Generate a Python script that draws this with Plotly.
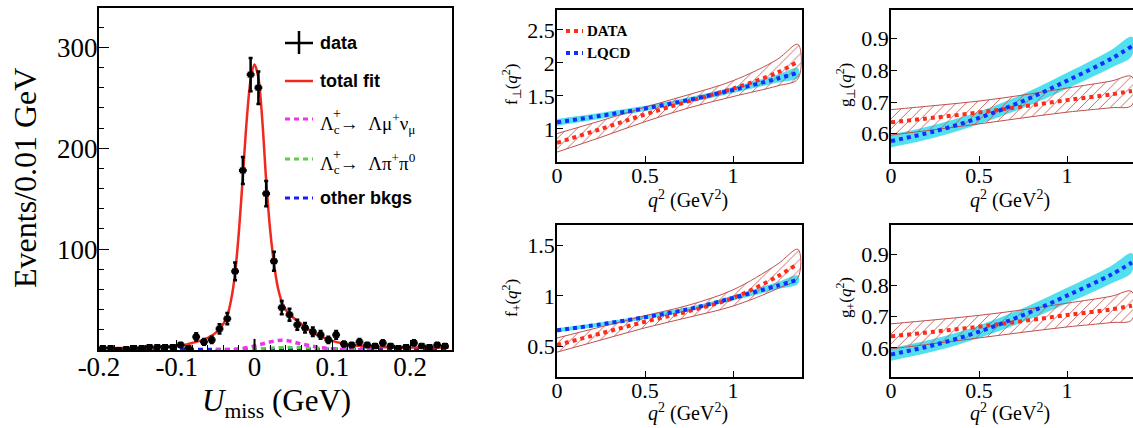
import plotly.graph_objects as go

W, H = 1133, 428
def px(x):
    return x / W
def py(y):
    return 1 - y / H

# ---------------- Left panel: U_miss distribution ----------------
bin_centers = [-0.195, -0.185, -0.175, -0.165, -0.155, -0.145, -0.135, -0.125, -0.115, -0.105,
               -0.095, -0.085, -0.075, -0.065, -0.055, -0.045, -0.035, -0.025, -0.015, -0.005,
               0.005, 0.015, 0.025, 0.035, 0.045, 0.055, 0.065, 0.075, 0.085, 0.095,
               0.105, 0.115, 0.125, 0.135, 0.145, 0.155, 0.165, 0.175, 0.185, 0.195,
               0.205, 0.215, 0.225, 0.235, 0.245]
counts = [2, 2, 0, 1, 2, 2, 3, 3, 3, 3,
          5, 2, 13, 8, 10, 21, 31, 78, 178, 273,
          260, 155, 88, 42, 35, 25, 22, 18, 15, 10,
          15, 6, 5, 8, 5, 4, 7, 4, 2, 3,
          7, 4, 3, 5, 4]
count_err = [c ** 0.5 for c in counts]

fit_x = [-0.2, -0.15, -0.12, -0.1, -0.09, -0.08, -0.07, -0.06, -0.05, -0.04, -0.035, -0.03,
         -0.025, -0.02, -0.015, -0.01, -0.005, 0.0, 0.005, 0.01, 0.015, 0.02, 0.025, 0.03,
         0.035, 0.04, 0.05, 0.06, 0.07, 0.08, 0.09, 0.1, 0.11, 0.12, 0.14, 0.16, 0.2, 0.25]
fit_y = [2, 2, 3, 4, 5, 7, 9, 12, 17, 26, 34, 50,
         76, 118, 172, 228, 268, 283, 270, 228, 168, 120, 86, 62,
         48, 40, 32, 26, 20, 15, 12, 9, 7, 5, 4, 3, 2.5, 2.5]

mu_x = [-0.05, -0.02, 0.0, 0.01, 0.02, 0.03, 0.04, 0.05, 0.06, 0.07, 0.08, 0.09, 0.1, 0.12, 0.15]
mu_y = [0, 1, 4, 6, 8, 9.5, 9.5, 8, 6, 4.5, 3, 2, 1.2, 0.5, 0]

pipi_x = [-0.05, 0.0, 0.02, 0.04, 0.06, 0.08, 0.1, 0.12, 0.15]
pipi_y = [0.3, 1.0, 2.0, 2.6, 2.4, 1.8, 1.2, 0.6, 0.2]

bkg_x = [-0.2, -0.1, 0.0, 0.1, 0.2, 0.25]
bkg_y = [0.8, 0.9, 1.0, 1.0, 0.9, 0.9]

# small vertical mark at U_miss = 0 near the baseline
mark_x = [0.0, 0.0]
mark_y = [0.0, 11.0]

# ---------------- Right panels: form factors ----------------
q2 = [0.0, 0.25, 0.5, 0.75, 1.0, 1.25, 1.369]

fperp_data = [0.79, 1.00, 1.22, 1.42, 1.61, 1.85, 2.02]
fperp_data_err = [0.14, 0.125, 0.11, 0.10, 0.12, 0.20, 0.26]
fperp_lqcd = [1.10, 1.20, 1.31, 1.44, 1.59, 1.76, 1.85]
fperp_lqcd_err = [0.05, 0.045, 0.04, 0.04, 0.045, 0.06, 0.07]

gperp_data = [0.636, 0.651, 0.667, 0.686, 0.706, 0.724, 0.735]
gperp_data_err = [0.040, 0.038, 0.036, 0.036, 0.038, 0.042, 0.045]
gperp_lqcd = [0.577, 0.608, 0.650, 0.703, 0.767, 0.836, 0.876]
gperp_lqcd_err = [0.020, 0.020, 0.020, 0.022, 0.025, 0.028, 0.030]

fplus_data = [0.515, 0.63, 0.745, 0.85, 0.98, 1.19, 1.32]
fplus_data_err = [0.07, 0.065, 0.06, 0.06, 0.08, 0.12, 0.14]
fplus_lqcd = [0.66, 0.72, 0.79, 0.87, 0.98, 1.10, 1.16]
fplus_lqcd_err = [0.02, 0.02, 0.02, 0.02, 0.025, 0.035, 0.04]

gplus_data = [0.637, 0.652, 0.668, 0.686, 0.705, 0.723, 0.735]
gplus_data_err = [0.040, 0.038, 0.036, 0.036, 0.038, 0.042, 0.045]
gplus_lqcd = [0.579, 0.610, 0.652, 0.705, 0.767, 0.834, 0.873]
gplus_lqcd_err = [0.020, 0.020, 0.020, 0.022, 0.025, 0.028, 0.030]

RED = '#ff2a1a'
HATCH = '#c0504d'
CYAN = '#52e0f0'
BLUE = '#1030ff'
SERIF = 'Liberation Serif'
SANS = 'Liberation Sans'

fig = go.Figure()

# left panel traces
fig.add_trace(go.Scatter(x=bkg_x, y=bkg_y, mode='lines', line=dict(color='#1a1aff', width=3, dash='5px,4px'),
                         xaxis='x', yaxis='y', showlegend=False, hoverinfo='skip'))
fig.add_trace(go.Scatter(x=pipi_x, y=pipi_y, mode='lines', line=dict(color='#5ccc4a', width=3, dash='5px,4px', shape='spline'),
                         xaxis='x', yaxis='y', showlegend=False, hoverinfo='skip'))
fig.add_trace(go.Scatter(x=mu_x, y=mu_y, mode='lines', line=dict(color='#ee33ee', width=3.5, dash='5px,4px', shape='spline'),
                         xaxis='x', yaxis='y', showlegend=False, hoverinfo='skip'))
fig.add_trace(go.Scatter(x=mark_x, y=mark_y, mode='lines', line=dict(color='black', width=2),
                         xaxis='x', yaxis='y', showlegend=False, hoverinfo='skip'))
fig.add_trace(go.Scatter(x=fit_x, y=fit_y, mode='lines', line=dict(color='#f0281e', width=2.5, shape='spline', smoothing=0.8),
                         xaxis='x', yaxis='y', showlegend=False, hoverinfo='skip'))
fig.add_trace(go.Scatter(x=bin_centers, y=counts, mode='markers',
                         marker=dict(color='black', size=6, symbol='square'),
                         error_y=dict(type='data', array=count_err, color='black', thickness=2.5, width=2),
                         error_x=dict(type='constant', value=0.005, color='black', thickness=3, width=0),
                         xaxis='x', yaxis='y', showlegend=False, hoverinfo='skip'))

# right panels
panels = [
    ('x2', 'y2', fperp_data, fperp_data_err, fperp_lqcd, fperp_lqcd_err),
    ('x3', 'y3', gperp_data, gperp_data_err, gperp_lqcd, gperp_lqcd_err),
    ('x4', 'y4', fplus_data, fplus_data_err, fplus_lqcd, fplus_lqcd_err),
    ('x5', 'y5', gplus_data, gplus_data_err, gplus_lqcd, gplus_lqcd_err),
]
for xa, ya, dv, de, lv, le in panels:
    up = [v + e for v, e in zip(lv, le)]
    lo = [v - e for v, e in zip(lv, le)]
    fig.add_trace(go.Scatter(x=q2 + q2[::-1], y=up + lo[::-1], mode='lines', fill='toself',
                             fillcolor=CYAN, line=dict(width=0, color=CYAN, shape='spline'),
                             xaxis=xa, yaxis=ya, showlegend=False, hoverinfo='skip'))
    up = [v + e for v, e in zip(dv, de)]
    lo = [v - e for v, e in zip(dv, de)]
    fig.add_trace(go.Scatter(x=q2 + q2[::-1], y=up + lo[::-1], mode='lines', fill='toself',
                             fillcolor='rgba(0,0,0,0)',
                             fillpattern=dict(shape='/', fgcolor=HATCH, bgcolor='rgba(0,0,0,0)', size=7, solidity=0.12),
                             line=dict(width=1, color=HATCH, shape='spline'),
                             xaxis=xa, yaxis=ya, showlegend=False, hoverinfo='skip'))
    fig.add_trace(go.Scatter(x=q2, y=dv, mode='lines', line=dict(color=RED, width=4, dash='dot', shape='spline'),
                             xaxis=xa, yaxis=ya, showlegend=False, hoverinfo='skip'))
    fig.add_trace(go.Scatter(x=q2, y=lv, mode='lines', line=dict(color=BLUE, width=4, dash='dot', shape='spline'),
                             xaxis=xa, yaxis=ya, showlegend=False, hoverinfo='skip'))

def xdom(a, b):
    return [px(a), px(b)]
def ydom(top, bot):
    return [py(bot), py(top)]

ax_common = dict(showgrid=False, zeroline=False, showline=True, linecolor='black', ticks='inside',
                 tickcolor='black', automargin=False)

left_font = dict(family=SERIF, size=27, color='black')
right_font = dict(family=SERIF, size=22, color='black')

layout = dict(
    template='none',
    width=W, height=H, margin=dict(l=0, r=0, t=0, b=0, pad=0, autoexpand=False),
    paper_bgcolor='white', plot_bgcolor='white', showlegend=False,
    xaxis=dict(domain=xdom(99, 452), range=[-0.2, 0.254], tickvals=[-0.2, -0.1, 0, 0.1, 0.2],
               ticktext=['-0.2', '-0.1', '0', '0.1', '0.2'], tickfont=left_font, ticklen=10,
               ticklabelstandoff=-8,
               linewidth=2, mirror=True, anchor='y', minor=dict(ticks='inside', ticklen=5, dtick=0.02, tickcolor='black'),
               **ax_common),
    yaxis=dict(domain=ydom(8, 350), range=[0, 339], tickvals=[100, 200, 300], tickfont=left_font,
               ticklen=10, linewidth=2, mirror=True, anchor='x', ticklabelstandoff=-6,
               minor=dict(ticks='inside', ticklen=5, dtick=20, tickcolor='black'), **ax_common),
)

right_specs = [
    ('xaxis2', 'yaxis2', 'y2', 'x2', (557, 802), (10, 162), [0, 1.392], [0.5, 2.8], [1, 1.5, 2, 2.5], ['1', '1.5', '2', '2.5'], True),
    ('xaxis3', 'yaxis3', 'y3', 'x3', (891, 1133), (10, 162), [0, 1.375], [0.511, 0.99], [0.6, 0.7, 0.8, 0.9], ['0.6', '0.7', '0.8', '0.9'], False),
    ('xaxis4', 'yaxis4', 'y4', 'x4', (557, 802), (225, 377), [0, 1.392], [0.2, 1.7], [0.5, 1, 1.5], ['0.5', '1', '1.5'], True),
    ('xaxis5', 'yaxis5', 'y5', 'x5', (891, 1133), (225, 377), [0, 1.375], [0.507, 0.993], [0.6, 0.7, 0.8, 0.9], ['0.6', '0.7', '0.8', '0.9'], False),
]
for xk, yk, yan, xan, (l, r), (t, b), xr, yr, yt, ytt, full in right_specs:
    layout[xk] = dict(domain=xdom(l, r), range=xr, tickvals=[0, 0.5, 1], ticktext=['0', '0.5', '1'],
                      tickfont=right_font, ticklen=6, linewidth=1.5, mirror=True, anchor=yan,
                      ticklabelstandoff=-7, **ax_common)
    layout[yk] = dict(domain=ydom(t, b), range=yr, tickvals=yt, ticktext=ytt, tickfont=right_font,
                      ticklen=6, linewidth=1.5, mirror=full, anchor=xan,
                      ticklabelstandoff=-4, **ax_common)

fig.update_layout(**layout)

def note(x, y, text, font, xanchor='center', angle=0):
    return dict(x=px(x), y=py(y), xref='paper', yref='paper', text=text, showarrow=False,
                xanchor=xanchor, yanchor='middle', textangle=angle, font=font)

ann = []
# left titles
ann.append(note(25, 178, 'Events/0.01 GeV', dict(family=SERIF, size=32, color='black'), angle=-90))
ann.append(note(276, 403, '<i>U</i><sub>miss</sub> (GeV)', dict(family=SERIF, size=31, color='black')))
# left legend
leg_font_sans = dict(family=SANS, size=18, color='black')
leg_font_serif = dict(family=SERIF, size=19, color='black')
ann.append(note(318, 43, '<b>data</b>', leg_font_sans, xanchor='left'))
ann.append(note(318, 81, '<b>total fit</b>', leg_font_sans, xanchor='left'))
ann.append(note(318, 123, 'Λ<sub>c</sub>→  Λμ<sup>+</sup>ν<sub>μ</sub>', leg_font_serif, xanchor='left'))
ann.append(note(318, 163, 'Λ<sub>c</sub>→  Λπ<sup>+</sup>π<sup>0</sup>', leg_font_serif, xanchor='left'))
ann.append(note(331, 114, '+', dict(family=SERIF, size=14, color='black'), xanchor='left'))
ann.append(note(331, 154, '+', dict(family=SERIF, size=14, color='black'), xanchor='left'))
ann.append(note(318, 198, '<b>other bkgs</b>', leg_font_sans, xanchor='left'))
shapes = []
shapes.append(dict(type='line', xref='paper', yref='paper', x0=px(285), x1=px(313), y0=py(43), y1=py(43),
                   line=dict(color='black', width=2.5)))
shapes.append(dict(type='line', xref='paper', yref='paper', x0=px(299), x1=px(299), y0=py(31), y1=py(54),
                   line=dict(color='black', width=2.5)))
shapes.append(dict(type='line', xref='paper', yref='paper', x0=px(285), x1=px(313), y0=py(81), y1=py(81),
                   line=dict(color='#f0281e', width=2.5)))
for yy, col in [(119, '#ee33ee'), (159, '#5ccc4a'), (198, '#1a1aff')]:
    shapes.append(dict(type='line', xref='paper', yref='paper', x0=px(285), x1=px(313), y0=py(yy), y1=py(yy),
                       line=dict(color=col, width=3, dash='5px,4px')))

# right titles
q2title = '<i>q</i><sup>2</sup> (GeV<sup>2</sup>)'
for cx, cy in [(688, 199), (1010, 199), (688, 412), (1010, 412)]:
    ann.append(note(cx, cy, q2title, dict(family=SERIF, size=20, color='black')))
for cx, cy, tt in [(511, 85, 'f<sub>⊥</sub>(<i>q</i><sup>2</sup>)'), (845, 85, 'g<sub>⊥</sub>(<i>q</i><sup>2</sup>)'),
                   (511, 298, 'f<sub>+</sub>(<i>q</i><sup>2</sup>)'), (845, 298, 'g<sub>+</sub>(<i>q</i><sup>2</sup>)')]:
    ann.append(note(cx, cy, tt, dict(family=SERIF, size=17, color='black'), angle=-90))
# right legend
for yy, col, tt in [(31, RED, '<b>DATA</b>'), (53, BLUE, '<b>LQCD</b>')]:
    shapes.append(dict(type='line', xref='paper', yref='paper', x0=px(566), x1=px(583), y0=py(yy), y1=py(yy),
                       line=dict(color=col, width=4, dash='dot')))
    ann.append(note(585, yy, tt, dict(family=SERIF, size=15, color='black'), xanchor='left'))

fig.update_layout(annotations=ann, shapes=shapes)
fig.write_html('out.html', config={'displayModeBar': False},
               post_script="document.body.style.margin='0';document.body.style.overflow='hidden';")
